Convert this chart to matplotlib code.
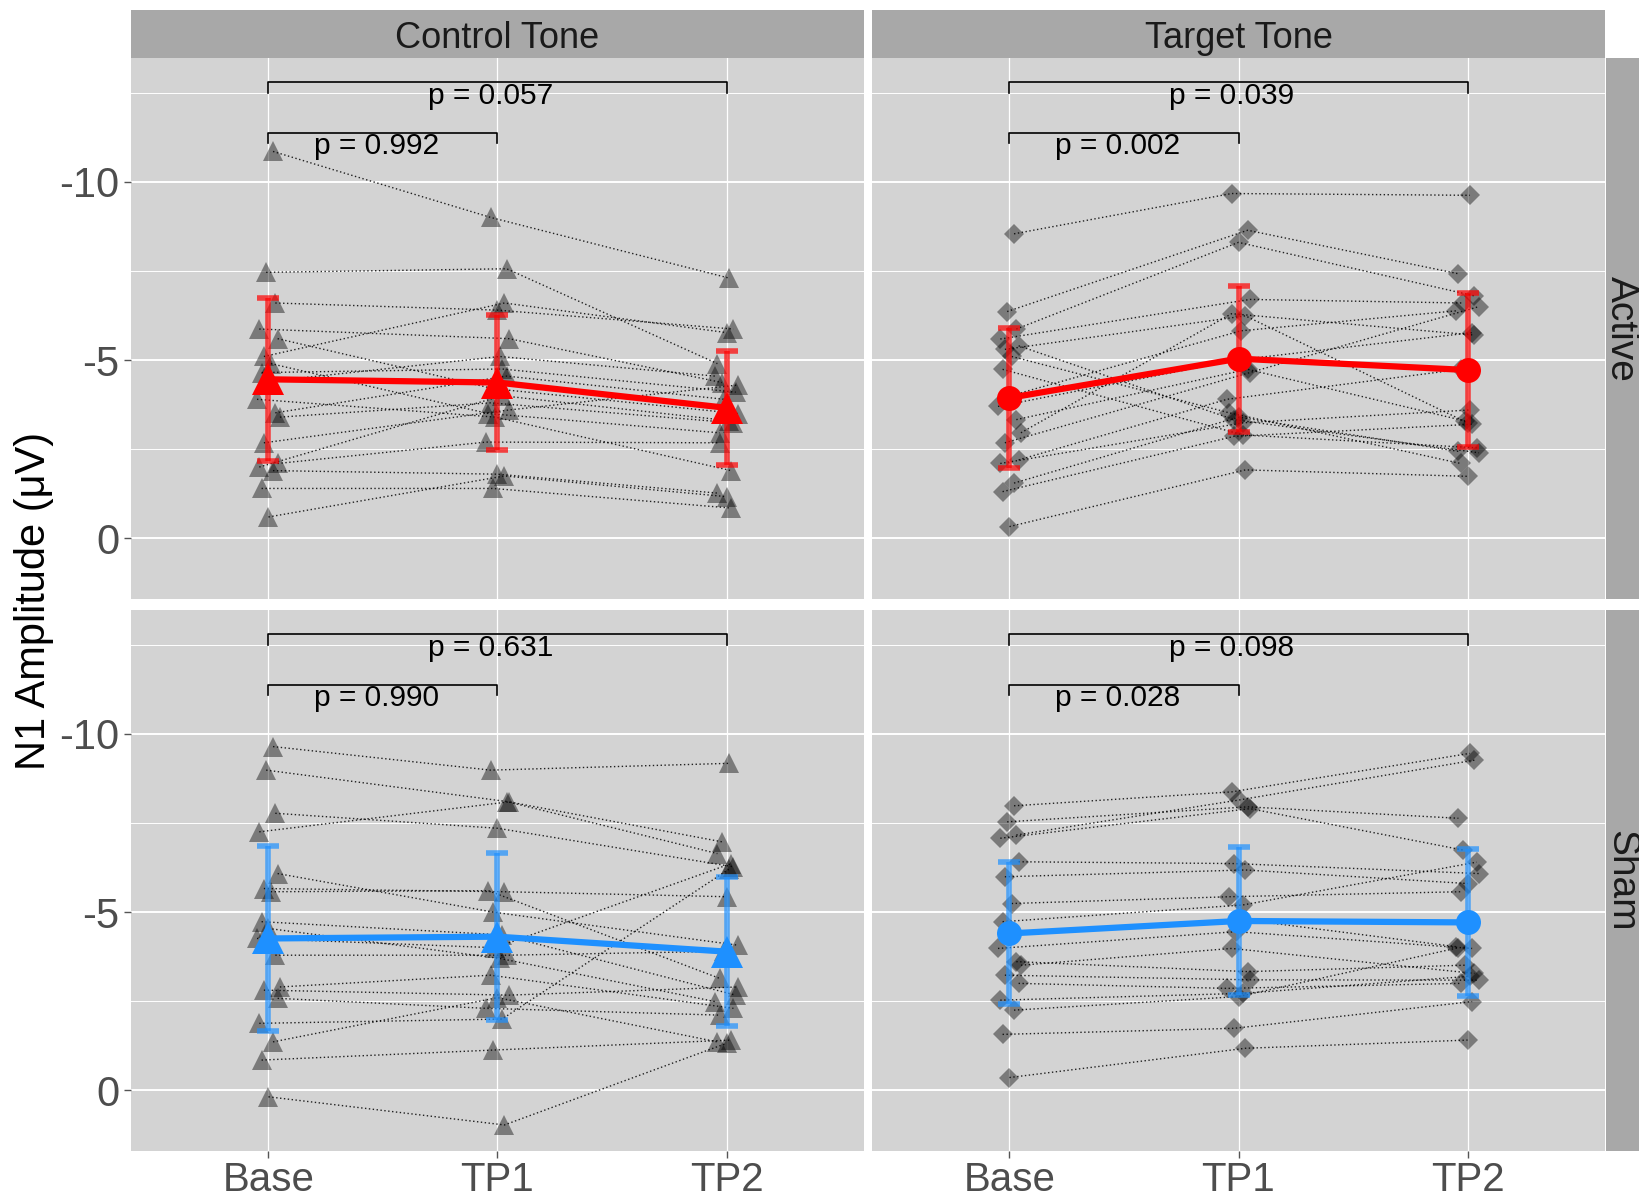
import matplotlib
matplotlib.use('Agg')
from matplotlib import pyplot as plt
import numpy as np

plt.rcParams['font.family'] = ['Liberation Sans', 'DejaVu Sans']
NARROW = ['Liberation Sans Narrow', 'Liberation Sans', 'DejaVu Sans']

TIMES = ['Base', 'TP1', 'TP2']
TONES = ['Control Tone', 'Target Tone']
GROUPS = ['Active', 'Sham']

# 单个被试的N1幅值 (uV)，顺序：Base, TP1, TP2
ca_base = [-10.85, -7.46, -6.6, -5.87, -5.6, -5.1, -4.9, -4.65, -4.4, -3.9, -3.52, -3.4, -2.68, -2.1, -2.0, -1.9, -1.4, -0.6]
ca_tp1 = [-9.0, -7.56, -6.4, -5.6, -4.2, -6.6, -3.5, -4.75, -5.1, -3.4, -4.55, -3.8, -3.6, -2.7, -4.0, -1.8, -1.4, -1.75]
ca_tp2 = [-7.3, -4.9, -5.87, -4.37, -3.5, -5.77, -2.96, -4.1, -4.55, -1.9, -3.9, -3.24, -4.3, -2.68, -3.3, -1.27, -0.85, -1.17]

ta_base = [-8.54, -6.36, -5.87, -5.59, -5.4, -5.3, -5.1, -4.74, -3.99, -3.7, -3.33, -2.96, -2.68, -2.2, -2.1, -1.55, -1.31, -0.33]
ta_tp1 = [-9.67, -8.64, -8.3, -6.7, -3.33, -6.24, -3.52, -2.9, -5.82, -5.0, -4.74, -6.3, -4.65, -3.9, -3.24, -3.4, -2.86, -1.92]
ta_tp2 = [-9.62, -7.42, -6.8, -6.6, -2.4, -3.24, -2.1, -2.54, -6.38, -5.77, -3.29, -5.7, -6.5, -4.74, -3.6, -2.44, -3.2, -1.74]

cs_base = [-9.64, -8.98, -7.77, -7.25, -6.08, -5.66, -5.57, -4.73, -4.54, -4.26, -3.79, -2.9, -2.81, -2.58, -1.88, -1.36, -0.85, 0.18]
cs_tp1 = [-8.98, -8.1, -7.35, -8.09, -5.0, -5.57, -5.6, -4.36, -3.7, -4.0, -3.79, -3.23, -2.67, -2.3, -2.0, -2.6, -1.13, 0.97]
cs_tp2 = [-9.17, -6.64, -6.27, -6.97, -4.07, -5.43, -3.14, -2.67, -2.49, -6.36, -3.9, -2.3, -2.9, -2.11, -6.2, -1.36, -1.41, -1.32]

ts_base = [-7.98, -7.53, -7.16, -7.07, -6.41, -5.99, -5.24, -4.73, -4.4, -3.98, -3.61, -3.51, -3.23, -3.0, -2.53, -2.25, -1.57, -0.36]
ts_tp1 = [-8.37, -7.95, -8.14, -7.9, -6.36, -6.18, -5.43, -5.2, -4.8, -4.45, -3.33, -3.98, -3.1, -2.86, -2.72, -2.63, -1.74, -1.18]
ts_tp2 = [-9.45, -7.63, -9.26, -6.74, -6.08, -5.8, -5.57, -6.4, -4.03, -3.98, -3.51, -3.28, -3.09, -3.0, -3.2, -4.0, -2.49, -1.41]

# 组均值和标准差
ca_mean = [-4.46, -4.37, -3.66]
ca_sd = [2.28, 1.88, 1.6]
ta_mean = [-3.94, -5.04, -4.72]
ta_sd = [1.97, 2.05, 2.16]
cs_mean = [-4.26, -4.31, -3.89]
cs_sd = [2.6, 2.34, 2.08]
ts_mean = [-4.4, -4.75, -4.71]
ts_sd = [1.99, 2.08, 2.06]

# p值：Base-TP1, Base-TP2
ca_p = ['0.992', '0.057']
ta_p = ['0.002', '0.039']
cs_p = ['0.990', '0.631']
ts_p = ['0.028', '0.098']

# 水平抖动
jit_base = [0.02, -0.01, 0.03, -0.04, 0.04, -0.02, 0.01, -0.03, 0.0, -0.05, 0.03, 0.05, -0.02, 0.04, -0.04, 0.02, -0.03, 0.0]
jit_tp1 = [-0.03, 0.04, 0.0, 0.05, -0.02, 0.03, -0.04, 0.02, 0.01, -0.01, 0.04, -0.03, 0.05, -0.05, 0.02, 0.0, -0.02, 0.03]
jit_tp2 = [0.01, -0.04, 0.03, -0.02, 0.05, 0.0, -0.03, 0.04, -0.05, 0.02, -0.01, 0.03, 0.05, -0.03, 0.01, -0.04, 0.02, 0.0]

PANEL_BG = '#D3D3D3'
STRIP_BG = '#A8A8A8'
RED = '#FF0000'
BLUE = '#1E90FF'


def draw_panel(ax, base, tp1, tp2, mean, sd, pvals, color, marker, ms, mean_marker, ms_mean):
    ax.set_facecolor(PANEL_BG)
    ax.set_xlim(0.4, 3.6)
    ax.set_ylim(1.7, -13.47)
    ax.set_xticks([1, 2, 3])
    ax.set_yticks([-10, -5, 0])
    ax.set_yticks([-12.5, -7.5, -2.5], minor=True)
    ax.grid(which='major', axis='y', color='white', lw=1.4)
    ax.grid(which='minor', axis='y', color='white', lw=0.7)
    ax.grid(which='major', axis='x', color='white', lw=0.9)
    ax.set_axisbelow(True)
    for s in ax.spines.values():
        s.set_visible(False)
    ax.tick_params(which='minor', length=0)
    ax.tick_params(which='major', length=5, width=1, color='#555555')

    vals = np.array([base, tp1, tp2])
    xs = np.array([1 + np.array(jit_base), 2 + np.array(jit_tp1), 3 + np.array(jit_tp2)])
    for i in range(vals.shape[1]):
        ax.plot(xs[:, i], vals[:, i], ls=(0, (1, 1.8)), color='black', lw=1.0, alpha=0.85, zorder=2)
    for k in range(3):
        ax.plot(xs[k], vals[k], ls='none', marker=marker, ms=ms, color='black', alpha=0.42, mew=0, zorder=3)

    x = np.arange(1, 4)
    ax.errorbar(x, mean, yerr=sd, fmt='none', ecolor=color, elinewidth=4, capsize=8, capthick=4, alpha=0.7, zorder=4)
    ax.plot(x, mean, color=color, lw=4.5, zorder=5)
    ax.plot(x, mean, ls='none', marker=mean_marker, ms=ms_mean, color=color, mew=0, zorder=6)

    # 显著性括号
    for (x0, x1, yb, yt, p) in [(1, 2, -11.38, -11.0, pvals[0]), (1, 3, -12.8, -12.4, pvals[1])]:
        ax.plot([x0, x0, x1, x1], [yb + 0.3, yb, yb, yb + 0.3], color='black', lw=1.2, zorder=7)
        ax.text((x0 + x1) / 2 - 0.03, yt, 'p = ' + p, ha='center', va='center', fontsize=21.5, color='black', zorder=8)


W, H = 1640, 1201
fig = plt.figure(figsize=(W / 100, H / 100), dpi=100)

col_x = [131, 872]
col_w = 733
row_y = [58, 610]
row_h = 541

panels = [
    (0, 0, ca_base, ca_tp1, ca_tp2, ca_mean, ca_sd, ca_p, RED, '^', 14, '^', 23),
    (0, 1, ta_base, ta_tp1, ta_tp2, ta_mean, ta_sd, ta_p, RED, 'D', 10, 'o', 18),
    (1, 0, cs_base, cs_tp1, cs_tp2, cs_mean, cs_sd, cs_p, BLUE, '^', 14, '^', 23),
    (1, 1, ts_base, ts_tp1, ts_tp2, ts_mean, ts_sd, ts_p, BLUE, 'D', 10, 'o', 18),
]

for (r, c, b, t1, t2, m, sd, p, col, mk, ms, mmk, msm) in panels:
    ax = fig.add_axes([col_x[c] / W, 1 - (row_y[r] + row_h) / H, col_w / W, row_h / H])
    draw_panel(ax, b, t1, t2, m, sd, p, col, mk, ms, mmk, msm)
    if c == 0:
        ax.set_yticklabels(['-10', '-5', '0'], fontsize=30, color='#4D4D4D', family=NARROW)
    else:
        ax.set_yticklabels([])
        ax.tick_params(axis='y', length=0)
    if r == 1:
        ax.set_xticklabels(TIMES, fontsize=29, color='#4D4D4D', family=NARROW)
        ax.tick_params(axis='x', pad=2)
    else:
        ax.set_xticklabels([])
        ax.tick_params(axis='x', length=0)

# 顶部分面标签
for c in range(2):
    sax = fig.add_axes([col_x[c] / W, 1 - 58 / H, col_w / W, 48 / H])
    sax.set_facecolor(STRIP_BG)
    sax.set_xticks([]); sax.set_yticks([])
    for s in sax.spines.values():
        s.set_visible(False)
    sax.text(0.5, 0.4, TONES[c], ha='center', va='center', fontsize=26, color='#1A1A1A', family=NARROW, transform=sax.transAxes)

# 右侧分面标签
for r in range(2):
    sax = fig.add_axes([1606 / W, 1 - (row_y[r] + row_h) / H, 34 / W, row_h / H])
    sax.set_facecolor(STRIP_BG)
    sax.set_xticks([]); sax.set_yticks([])
    for s in sax.spines.values():
        s.set_visible(False)
    sax.text(0.45, 0.5, GROUPS[r], ha='center', va='center', rotation=-90, fontsize=28, color='#1A1A1A', family=NARROW, transform=sax.transAxes, clip_on=False)

fig.text(0.021, 0.5, 'N1 Amplitude (\u03bcV)', rotation=90, ha='center', va='center', fontsize=30, color='black')

plt.savefig('out.png', dpi=100)
